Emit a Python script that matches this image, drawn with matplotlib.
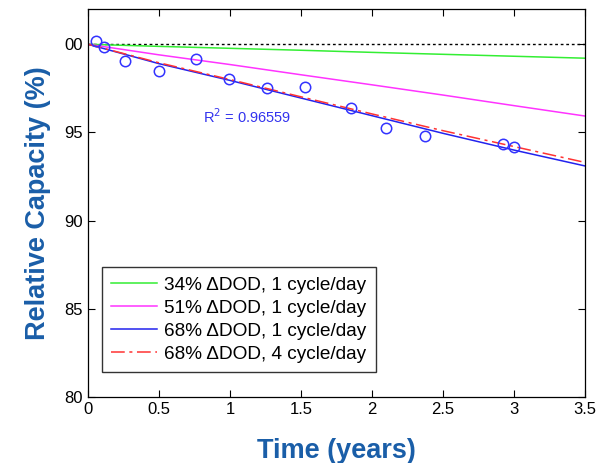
import matplotlib
matplotlib.use("Agg")
import matplotlib.pyplot as plt

plt.rcParams['font.family'] = ['Liberation Sans', 'DejaVu Sans']

# measured capacity (circles)
t_meas = [0.056, 0.11, 0.26, 0.50, 0.76, 0.99, 1.26, 1.53, 1.85, 2.10, 2.37, 2.92, 3.00]
cap_meas = [100.17, 99.83, 99.04, 98.47, 99.15, 98.02, 97.51, 97.57, 96.38, 95.25, 94.80, 94.34, 94.20]

# model curves
t_model = [0, 0.5, 1.0, 1.5, 2.0, 2.5, 3.0, 3.5]
cap_34_1 = [100, 99.88, 99.77, 99.66, 99.54, 99.43, 99.32, 99.21]
cap_51_1 = [100, 99.40, 98.85, 98.27, 97.70, 97.12, 96.52, 95.93]
cap_68_1 = [100, 98.90, 97.95, 96.95, 95.95, 94.95, 94.00, 93.10]
cap_68_4 = [100, 98.95, 98.00, 97.02, 96.05, 95.10, 94.20, 93.30]

labels = ['34% \u0394DOD, 1 cycle/day', '51% \u0394DOD, 1 cycle/day',
          '68% \u0394DOD, 1 cycle/day', '68% \u0394DOD, 4 cycle/day']

fig = plt.figure(figsize=(5.97, 4.63), dpi=100)
ax = fig.add_axes([0.1474, 0.1425, 0.8326, 0.8381])

ax.plot([0, 3.5], [100, 100], color='black', linestyle=(0, (2, 2)), linewidth=1)
ax.plot(t_model, cap_34_1, color='#33ee33', linewidth=1.1, label=labels[0])
ax.plot(t_model, cap_51_1, color='#ff33ff', linewidth=1.1, label=labels[1])
ax.plot(t_model, cap_68_1, color='#2222ee', linewidth=1.1, label=labels[2])
ax.plot(t_model, cap_68_4, color='#ff3333', linewidth=1.1, linestyle=(0, (9, 3, 2, 3)), label=labels[3])
ax.plot(t_meas, cap_meas, 'o', markerfacecolor='none', markeredgecolor='#3333ff',
        markersize=7.5, markeredgewidth=1.1)

ax.text(0.81, 95.55, 'R$^2$ = 0.96559', color='#3333ee', fontsize=10.5)

ax.set_xlim(0, 3.5)
ax.set_ylim(80, 102)
ax.set_xticks([0, 0.5, 1, 1.5, 2, 2.5, 3, 3.5])
ax.set_xticklabels(['0', '0.5', '1', '1.5', '2', '2.5', '3', '3.5'])
ax.set_yticks([80, 85, 90, 95, 100])
ax.set_yticklabels(['80', '85', '90', '95', '00'])
ax.tick_params(direction='in', top=True, right=True, length=5, labelsize=12, width=0.8)
for s in ax.spines.values():
    s.set_linewidth(0.9)

ax.set_xlabel('Time (years)', color='#1a5ea8', fontsize=19.5, fontweight='bold', labelpad=15)
ax.set_ylabel('Relative Capacity (%)', color='#1a5ea8', fontsize=19.5, fontweight='bold', labelpad=10)

leg = ax.legend(loc='lower left', bbox_to_anchor=(0.028, 0.064), fontsize=13.7, frameon=True,
                fancybox=False, edgecolor='black', handlelength=2.4, handletextpad=0.35,
                borderpad=0.5, labelspacing=0.3, borderaxespad=0)
leg.get_frame().set_linewidth(1.0)

fig.savefig('out.png', dpi=100)
